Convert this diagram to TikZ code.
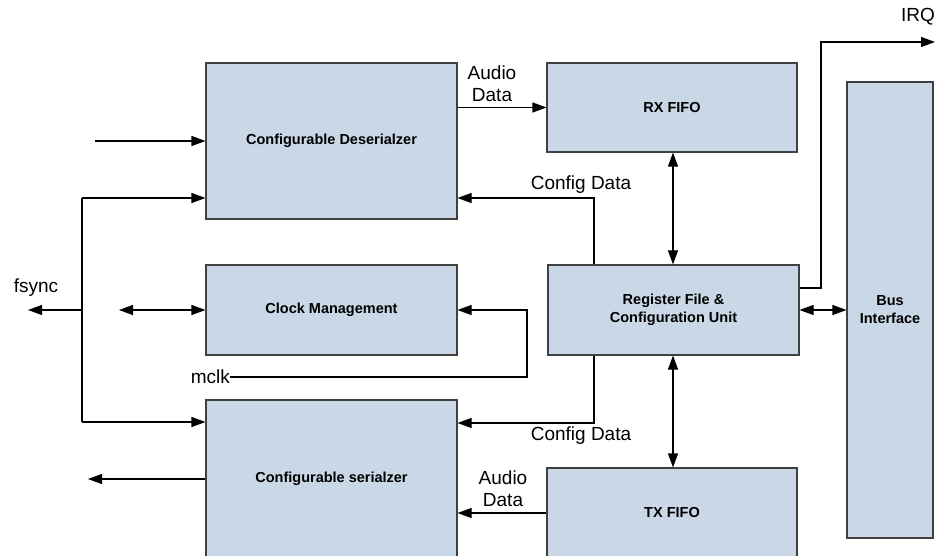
\documentclass[tikz,border=0pt]{standalone}
\usepackage{fontspec}
\setmainfont{Liberation Sans}
\usetikzlibrary{arrows.meta}
\definecolor{boxfill}{HTML}{C9D7E6}
\definecolor{boxline}{HTML}{404040}
\tikzset{
  blk/.style={draw=boxline, line width=1.1pt, fill=boxfill, inner sep=0pt, align=center,
    font=\fontsize{14.5}{18}\selectfont\bfseries},
  conn/.style={line width=1.1pt, draw=black},
  arr/.style={conn, -{Triangle[length=14pt,width=10pt]}},
  darr/.style={conn, {Triangle[length=14pt,width=10pt]}-{Triangle[length=14pt,width=10pt]}},
  lbl/.style={font=\fontsize{19}{22}\selectfont, inner sep=0pt, align=center}
}
\begin{document}
\begin{tikzpicture}[x=1pt,y=-1pt]
\clip (0,0) rectangle (940,556);
\fill[white] (0,0) rectangle (940,556);
% blocks
\node[blk, minimum width=251pt, minimum height=156pt] (des) at (331.5,141) {Configurable Deserialzer};
\node[blk, minimum width=250pt, minimum height=89pt] (rx) at (672,107.5) {RX FIFO};
\node[blk, minimum width=251pt, minimum height=90pt] (clk) at (331.5,310) {Clock Management};
\node[blk, minimum width=251pt, minimum height=90pt] (reg) at (673.5,310) {Register File \&\\Configuration Unit};
\node[blk, minimum width=86pt, minimum height=456pt] (bus) at (890,310) {Bus\\Interface};
\node[blk, minimum width=251pt, minimum height=158pt] (ser) at (331.5,479) {Configurable serialzer};
\node[blk, minimum width=250pt, minimum height=89pt] (tx) at (672,512.5) {TX FIFO};
% coordinates
\coordinate (inL) at (95,141);
\coordinate (fsT) at (82,198);
\coordinate (fsB) at (82,422);
\coordinate (fsM) at (82,310);
\coordinate (fsO) at (28,310);
\coordinate (clkL) at (119,310);
\coordinate (mclkS) at (230,377);
\coordinate (mclkC) at (527,377);
\coordinate (cfgT) at (594,198);
\coordinate (cfgB) at (594,423);
\coordinate (irqA) at (821,288);
\coordinate (irqB) at (821,42);
\coordinate (irqE) at (935,42);
\coordinate (serO) at (88,479);
\coordinate (adB) at (547,513);
% connectors
\draw[arr] (inL) -- (inL -| des.west);
\draw[conn] (fsT) -- (fsB);
\draw[arr] (fsT) -- (fsT -| des.west);
\draw[arr] (fsB) -- (fsB -| ser.west);
\draw[arr] (fsM) -- (fsO);
\draw[darr] (clkL) -- (clk.west);
\draw[arr] (mclkS) -- (mclkC) -- (mclkC |- clk.east) -- (clk.east);
\draw[arr] (des.east |- rx.west) -- (rx.west);
\draw[arr] (cfgT |- reg.north) -- (cfgT) -- (cfgT -| des.east);
\draw[darr] (rx.south -| 673,0) -- (reg.north -| 673,0);
\draw[darr] (reg.south -| 673,0) -- (tx.north -| 673,0);
\draw[arr] (cfgB |- reg.south) -- (cfgB) -- (cfgB -| ser.east);
\draw[arr] (reg.east |- irqA) -- (irqA) -- (irqB) -- (irqE);
\draw[darr] (reg.east) -- (bus.west |- reg.east);
\draw[arr] (ser.west |- serO) -- (serO);
\draw[arr] (tx.west |- adB) -- (ser.east |- adB);
% labels
\node[lbl] (lfs) at (36,288) {fsync};
\node[lbl, anchor=east] (lmclk) at (mclkS) {mclk};
\node[lbl] (lad1) at (492,84) {Audio\\Data};
\node[lbl] (lcfg1) at (581,185) {Config Data};
\node[lbl] (lcfg2) at (581,436) {Config Data};
\node[lbl] (lad2) at (503,489) {Audio\\Data};
\node[lbl] (lirq) at (918,17) {IRQ};
\end{tikzpicture}
\end{document}
